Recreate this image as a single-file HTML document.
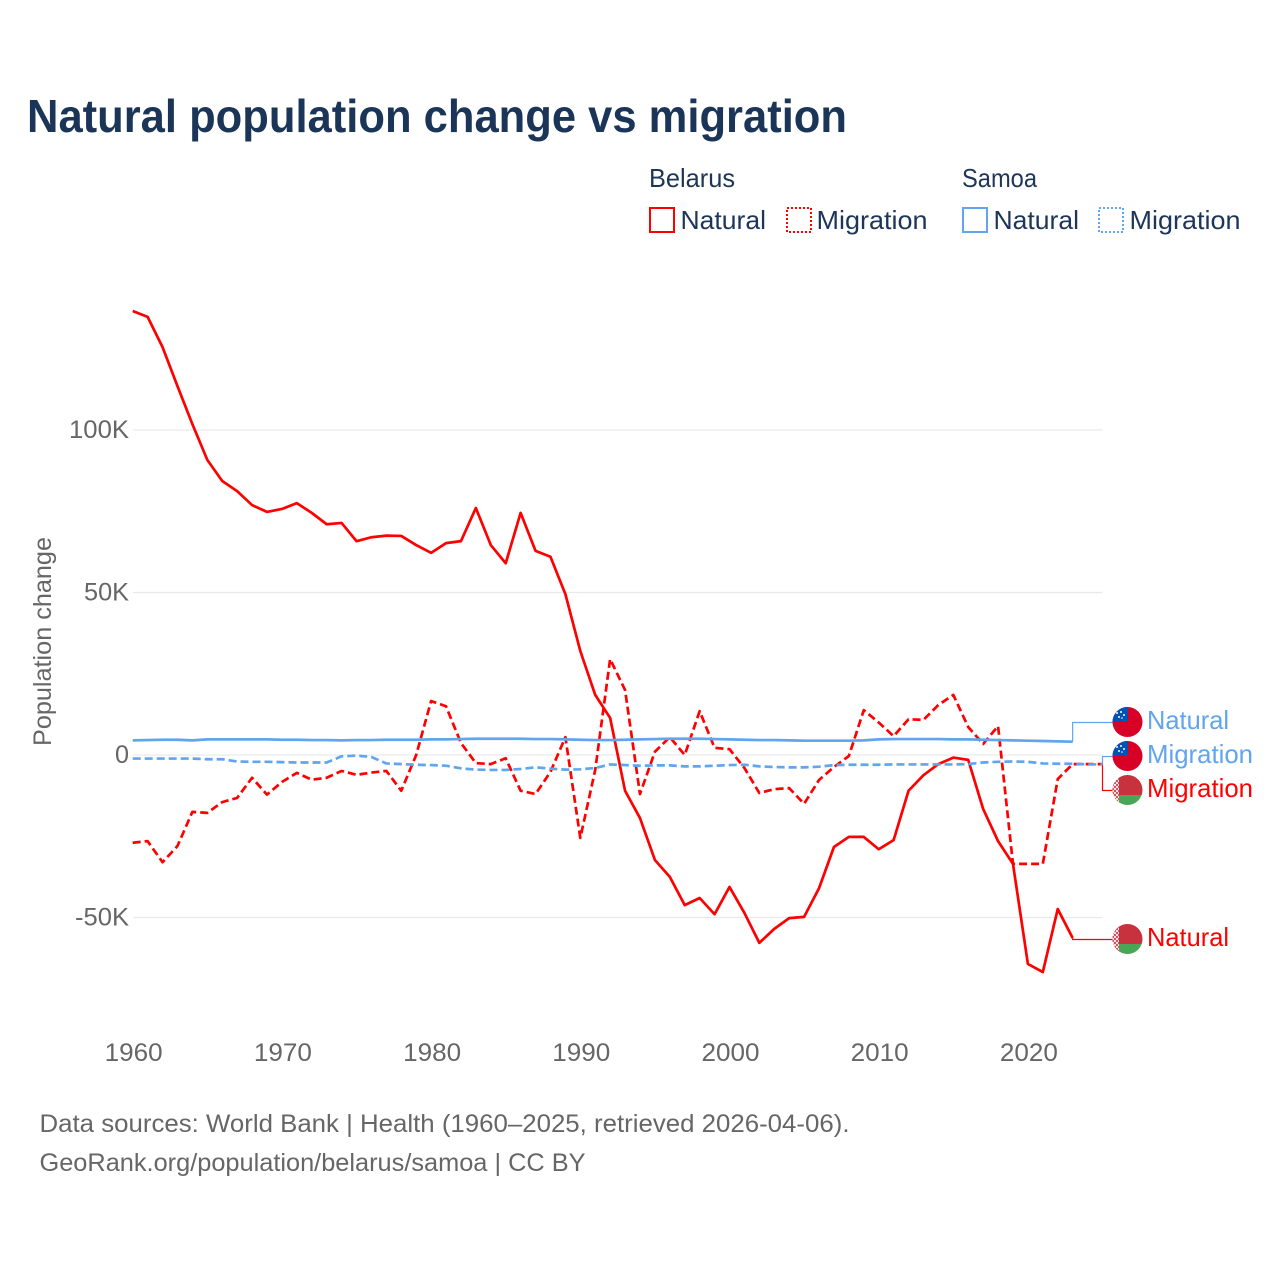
<!DOCTYPE html>
<html lang="en">
<head>
<meta charset="utf-8">
<title>Natural population change vs migration</title>
<style>
html,body{margin:0;padding:0;background:#fff;width:1280px;height:1280px;overflow:hidden}
svg{display:block}
text{font-family:"Liberation Sans",sans-serif}
</style>
</head>
<body>
<svg id="chart" xmlns="http://www.w3.org/2000/svg" width="1280" height="1280" viewBox="0 0 1280 1280">
<defs>
<clipPath id="c1"><circle cx="1127.5" cy="722" r="15"/></clipPath>
<clipPath id="c2"><circle cx="1127.5" cy="756" r="15"/></clipPath>
<clipPath id="c3"><circle cx="1127.5" cy="790" r="15"/></clipPath>
<clipPath id="c4"><circle cx="1127.5" cy="939" r="15"/></clipPath>
<pattern id="orn" width="4" height="4" patternUnits="userSpaceOnUse"><rect width="4" height="4" fill="#f7e3e5"/><rect x="0" y="0" width="2" height="2" fill="#d0525d"/><rect x="2" y="2" width="2" height="2" fill="#d0525d"/></pattern>
</defs>
<text x="27" y="132" font-size="46" font-weight="700" fill="#1a3557" textLength="820" lengthAdjust="spacingAndGlyphs">Natural population change vs migration</text>

<g font-size="26" fill="#1d3557">
<text x="649" y="187" textLength="86" lengthAdjust="spacingAndGlyphs">Belarus</text>
<text x="962" y="187" textLength="75" lengthAdjust="spacingAndGlyphs">Samoa</text>
<rect x="650" y="208" width="24" height="24" fill="none" stroke="#ff0000" stroke-width="2"/>
<text x="680.5" y="229" textLength="85.5" lengthAdjust="spacingAndGlyphs">Natural</text>
<rect x="787" y="208" width="24" height="24" fill="none" stroke="#ff0000" stroke-width="2" stroke-dasharray="2 2"/>
<text x="816.5" y="229" textLength="111" lengthAdjust="spacingAndGlyphs">Migration</text>
<rect x="963" y="208" width="24" height="24" fill="none" stroke="#60a5ee" stroke-width="2"/>
<text x="993.5" y="229" textLength="85.5" lengthAdjust="spacingAndGlyphs">Natural</text>
<rect x="1099" y="208" width="24" height="24" fill="none" stroke="#60a5ee" stroke-width="2" stroke-dasharray="2 2"/>
<text x="1129.5" y="229" textLength="111" lengthAdjust="spacingAndGlyphs">Migration</text>
</g>

<text transform="translate(51,641.5) rotate(-90)" text-anchor="middle" font-size="25" fill="#666666" textLength="209" lengthAdjust="spacingAndGlyphs">Population change</text>
<g id="grid"></g>
<g id="yticks"></g>
<g id="xticks"></g>
<g id="connectors"></g>
<g id="series"></g>

<g clip-path="url(#c1)">
<rect x="1112" y="706" width="31" height="32" fill="#d80027"/><rect x="1112" y="706" width="16" height="16" fill="#0052b4"/>
<g fill="#fff"><circle cx="1119" cy="717" r="1"/><circle cx="1121" cy="712" r="1"/><circle cx="1124" cy="715" r="1"/><circle cx="1117" cy="713" r="1"/><circle cx="1122" cy="718" r="0.8"/></g>
</g>
<g clip-path="url(#c2)">
<rect x="1112" y="740" width="31" height="32" fill="#d80027"/><rect x="1112" y="740" width="16" height="16" fill="#0052b4"/>
<g fill="#fff"><circle cx="1119" cy="751" r="1"/><circle cx="1121" cy="746" r="1"/><circle cx="1124" cy="749" r="1"/><circle cx="1117" cy="747" r="1"/><circle cx="1122" cy="752" r="0.8"/></g>
</g>
<g clip-path="url(#c3)">
<rect x="1112" y="774" width="31" height="21" fill="#c8313e"/><rect x="1112" y="795" width="31" height="11" fill="#4aa657"/><rect x="1112" y="774" width="7" height="32" fill="url(#orn)"/>
</g>
<g clip-path="url(#c4)">
<rect x="1112" y="923" width="31" height="21" fill="#c8313e"/><rect x="1112" y="944" width="31" height="11" fill="#4aa657"/><rect x="1112" y="923" width="7" height="32" fill="url(#orn)"/>
</g>

<g font-size="26">
<text x="1147" y="729" fill="#60a5ee" textLength="82" lengthAdjust="spacingAndGlyphs">Natural</text>
<text x="1147" y="763" fill="#60a5ee" textLength="106" lengthAdjust="spacingAndGlyphs">Migration</text>
<text x="1147" y="797" fill="#ff0000" textLength="106" lengthAdjust="spacingAndGlyphs">Migration</text>
<text x="1147" y="946" fill="#ff0000" textLength="82" lengthAdjust="spacingAndGlyphs">Natural</text>
</g>

<g font-size="25" fill="#666666">
<text x="39.5" y="1132" textLength="810" lengthAdjust="spacingAndGlyphs">Data sources: World Bank | Health (1960–2025, retrieved 2026-04-06).</text>
<text x="39.5" y="1171" textLength="546" lengthAdjust="spacingAndGlyphs">GeoRank.org/population/belarus/samoa | CC BY</text>
</g>
</svg>
<script>
const startYear = 1960;
const xTickYears = [1960, 1970, 1980, 1990, 2000, 2010, 2020];
const yTickValues = [100, 50, 0, -50];
const yTickLabels = ['100K', '50K', '0', '-50K'];
const yTickWidths = [60, 45, 14, 54];

const belarusNatural = [136.6,134.8,125.5,113.5,101.8,90.8,84.3,81.2,76.9,74.8,75.7,77.5,74.5,71,71.4,65.8,67,67.5,67.4,64.6,62.2,65.2,65.8,76,64.6,59,74.5,62.8,61,49.5,32,18.5,11.4,-11,-19.4,-32.3,-37.5,-46.2,-44,-49,-40.6,-48.6,-57.8,-53.5,-50.2,-49.8,-41,-28.3,-25.2,-25.2,-29,-26.2,-11,-6.2,-2.8,-0.8,-1.5,-16.6,-26.5,-33.5,-64.3,-66.8,-47.4,-56.3];
const belarusMigration = [-27,-26.5,-33,-28,-17.5,-17.8,-14.5,-13.2,-7,-12.2,-8.3,-5.5,-7.6,-7,-4.9,-6.1,-5.4,-4.9,-11,0,16.6,15,3.7,-2.5,-2.8,-1,-11,-12,-5.2,5.5,-25.5,-4.6,29.5,20,-12,1,5.5,0,13.5,2.2,1.8,-4,-11.7,-10.5,-10.2,-15,-7.7,-3.7,-0.3,13.8,10,5.8,11,10.8,15.4,18.5,8.6,3.4,8.9,-33.5,-33.5,-33.5,-7.4,-2.8,-2.8,-2.8];
const samoaNatural = [4.5,4.6,4.7,4.7,4.5,4.8,4.8,4.8,4.8,4.8,4.7,4.7,4.6,4.6,4.5,4.6,4.6,4.7,4.7,4.7,4.8,4.8,4.9,5,5,5,5,4.9,4.9,4.8,4.7,4.6,4.6,4.7,4.8,4.9,5,5,5,4.9,4.8,4.7,4.6,4.6,4.5,4.4,4.4,4.4,4.4,4.5,4.8,4.9,4.9,4.9,4.9,4.8,4.8,4.7,4.6,4.5,4.4,4.3,4.2,4.1];
const samoaMigration = [-1.1,-1.1,-1.1,-1.1,-1.1,-1.3,-1.3,-2,-2.1,-2.1,-2.2,-2.3,-2.3,-2.3,-0.4,-0.2,-0.6,-2.6,-2.8,-3,-3.1,-3.3,-4.1,-4.5,-4.6,-4.6,-4.3,-3.8,-4.2,-4.5,-4.4,-4,-2.9,-3.1,-3.3,-3.2,-3.2,-3.5,-3.5,-3.3,-3.1,-3,-3.5,-3.7,-3.8,-3.8,-3.6,-3.1,-3,-3,-3,-2.9,-2.9,-2.9,-2.9,-2.9,-2.8,-2.3,-2.1,-2,-2.1,-2.6,-2.7,-2.7,-2.9,-2.9];

const RED = '#ff0000';
const BLUE = '#60a5ee';
const NS = 'http://www.w3.org/2000/svg';
function xScale(year) { return 132.7 + (year - startYear) * 14.92; }
function yScale(k) { return 755 - k * 3.25; }
function mk(tag, attrs, parent) {
  const el = document.createElementNS(NS, tag);
  for (const k in attrs) el.setAttribute(k, attrs[k]);
  parent.appendChild(el);
  return el;
}
const gridG = document.getElementById('grid');
const yG = document.getElementById('yticks');
const xG = document.getElementById('xticks');
const connG = document.getElementById('connectors');
const serG = document.getElementById('series');

yTickValues.forEach(function (v, i) {
  const line = mk('line', {x1: 133, x2: 1102.5, y1: yScale(v), y2: yScale(v), stroke: '#e9e9e9', 'stroke-width': 1.2}, gridG);
  
  
  const t = mk('text', {x: 129, y: yScale(v) + 8, 'text-anchor': 'end', 'font-size': 25, fill: '#666666', textLength: yTickWidths[i], lengthAdjust: 'spacingAndGlyphs'}, yG);
  t.textContent = yTickLabels[i];
  
  
});
xTickYears.forEach(function (yr) {
  const t = mk('text', {x: xScale(yr) + 1, y: 1061, 'text-anchor': 'middle', 'font-size': 25, fill: '#666666', textLength: 58, lengthAdjust: 'spacingAndGlyphs'}, xG);
  t.textContent = String(yr);
  
  
});

function lastPt(arr) { const i = arr.length - 1; return [xScale(startYear + i), yScale(arr[i])]; }
function connector(arr, labelY, color) {
  const p = lastPt(arr);
  const c = mk('path', {d: 'M' + p[0] + ' ' + p[1] + 'V' + (labelY + 0.5) + 'H1113', fill: 'none', stroke: color, 'stroke-width': 1.2}, connG);
  
  
}
connector(samoaNatural, 722, BLUE);
connector(belarusMigration, 790, RED);
connector(samoaMigration, 756, BLUE);
connector(belarusNatural, 939, RED);

function drawLine(arr, color, dash, name) {
  const d = arr.map(function (v, i) {
    return (i ? 'L' : 'M') + xScale(startYear + i).toFixed(2) + ' ' + yScale(v).toFixed(2);
  }).join('');
  const attrs = {d: d, fill: 'none', stroke: color, 'stroke-width': 2.7, 'stroke-linejoin': 'round'};
  if (dash) attrs['stroke-dasharray'] = dash;
  const p = mk('path', attrs, serG);
  
  
}
drawLine(belarusNatural, RED, null, 'line-belarus-natural');
drawLine(belarusMigration, RED, '8 4', 'line-belarus-migration');
drawLine(samoaNatural, BLUE, null, 'line-samoa-natural');
drawLine(samoaMigration, BLUE, '8 4', 'line-samoa-migration');
</script>
</body>
</html>
